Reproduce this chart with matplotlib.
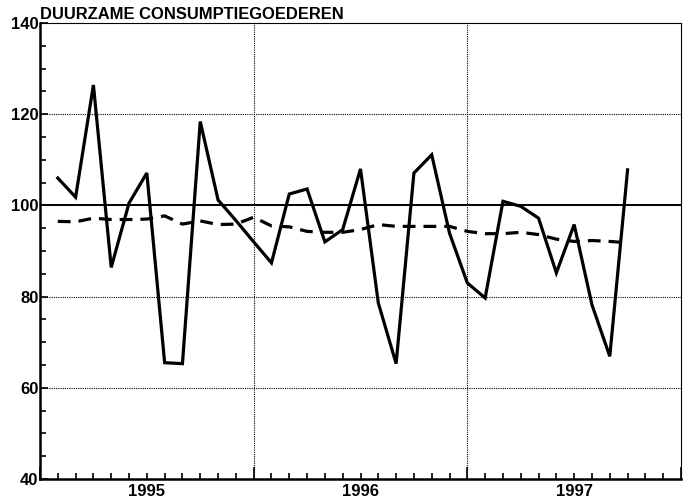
import matplotlib
matplotlib.use("Agg")
import matplotlib.pyplot as plt
from matplotlib.ticker import MultipleLocator
from matplotlib.transforms import blended_transform_factory

plt.rcParams['font.family'] = ['Liberation Sans', 'DejaVu Sans']
plt.rcParams['font.weight'] = 'bold'

# maandnummer vanaf begin 1995 (as loopt van 0 tot 36)
months = list(range(1, 34))
index = [106.0, 101.8, 126.4, 86.4, 100.5, 107.1, 65.5, 65.3, 118.4, 101.2,
         96.7, 92.0, 87.4, 102.5, 103.6, 92.0, 94.7, 108.0, 78.6, 65.3,
         107.1, 111.1, 93.9, 83.0, 79.7, 100.9, 99.8, 97.2, 85.2, 95.8,
         78.2, 66.9, 107.8]
trend = [96.5, 96.4, 97.2, 96.9, 96.9, 97.0, 97.7, 95.9, 96.6, 95.8,
         95.9, 97.4, 95.5, 95.3, 94.3, 94.1, 94.1, 94.7, 95.8, 95.4,
         95.4, 95.4, 95.4, 94.3, 93.8, 93.8, 94.1, 93.6, 92.6, 92.1,
         92.3, 92.1, 91.8]
years = ['1995', '1996', '1997']
title = 'DUURZAME CONSUMPTIEGOEDEREN'

fig = plt.figure(figsize=(6.96, 5.0), dpi=100)
ax = fig.add_axes([40/696, 21/500, 641/696, 456/500])

ax.set_xlim(0, 36)
ax.set_ylim(40, 140)

# rasterlijnen
for y in [60, 80, 120]:
    ax.axhline(y, color='black', lw=0.8, ls=(0, (1, 1)), zorder=1)
for x in [12, 24]:
    ax.axvline(x, color='black', lw=0.8, ls=(0, (1, 1)), zorder=1)
ax.axhline(100, color='black', lw=1.4, zorder=2)

ax.plot(months, index, color='black', lw=2.3, solid_joinstyle='miter', zorder=3)
ax.plot(months, trend, color='black', lw=2.3, ls=(0, (4, 2.5)), zorder=3)

for side in ['top', 'right']:
    ax.spines[side].set_linestyle((0, (1, 1)))
    ax.spines[side].set_linewidth(0.8)
for side in ['left', 'bottom']:
    ax.spines[side].set_linewidth(1.8)

ax.yaxis.set_major_locator(MultipleLocator(20))
ax.yaxis.set_minor_locator(MultipleLocator(5))
ax.xaxis.set_major_locator(MultipleLocator(12))
ax.xaxis.set_minor_locator(MultipleLocator(1))
ax.tick_params(axis='y', which='major', direction='in', length=6, width=1.2,
               labelsize=12, pad=1)
ax.tick_params(axis='y', which='minor', direction='in', length=4, width=1.2)
ax.tick_params(axis='x', which='major', direction='in', length=9, width=1.2,
               labelbottom=False)
ax.tick_params(axis='x', which='minor', direction='in', length=4, width=1.2)

trans = blended_transform_factory(ax.transData, ax.transAxes)
for i, label in enumerate(years):
    ax.text(6 + 12 * i, -0.01, label, transform=trans, ha='center', va='top',
            fontsize=12)

ax.text(0, 1.003, title, transform=ax.transAxes, ha='left', va='bottom',
        fontsize=11.9)

fig.savefig('out.png', dpi=100)
